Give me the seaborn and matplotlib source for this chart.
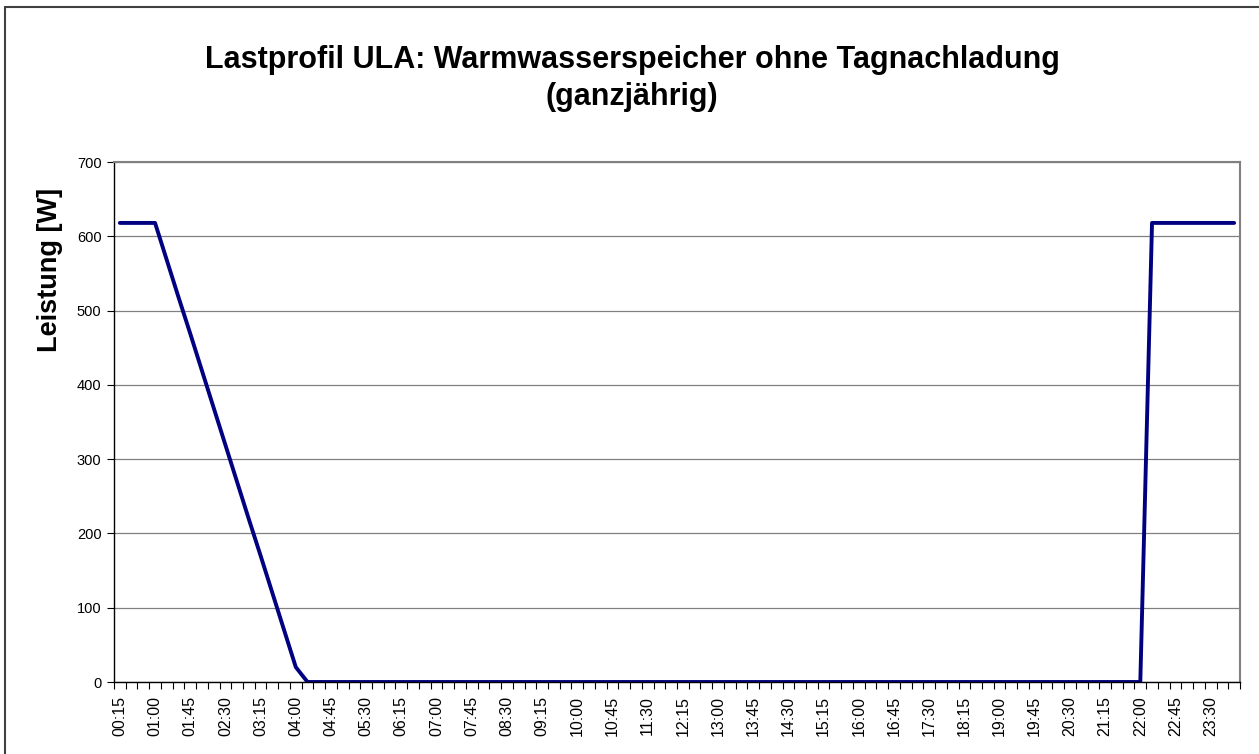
import numpy as np
import pandas as pd
import matplotlib
matplotlib.use("Agg")
import matplotlib.pyplot as plt
from matplotlib.ticker import FixedLocator
import seaborn as sns

# quarter-hour slots 00:15 ... 24:00
slots = [f"{(m // 60):02d}:{(m % 60):02d}" for m in range(15, 24 * 60 + 15, 15)]
slots[-1] = "24:00"

# load in W per slot
power = ([618, 618, 618, 618,
          568, 518, 469, 419, 369, 319, 269, 219, 170, 120, 70, 20]
         + [0] * 72
         + [618, 618, 618, 618, 618, 618, 618, 618])

y_ticks = [0, 100, 200, 300, 400, 500, 600, 700]

df = pd.DataFrame({"idx": range(len(slots)), "slot": slots, "power": power})

sns.set_style("white")
plt.rcParams['font.family'] = ['Liberation Sans', 'DejaVu Sans']
plt.rcParams['text.color'] = 'black'
plt.rcParams['xtick.color'] = 'black'
plt.rcParams['ytick.color'] = 'black'
plt.rcParams['axes.labelcolor'] = 'black'

fig = plt.figure(figsize=(12.59, 7.54), dpi=100)
ax = fig.add_axes([114 / 1259, 1 - 682 / 754, 1126 / 1259, 520 / 754])

sns.lineplot(data=df, x="idx", y="power", color="#000080", linewidth=2.8, ax=ax)

ax.set_xlim(-0.5, len(slots) - 0.5)
ax.set_ylim(0, 700)
ax.set_yticks(y_ticks)
ax.set_yticklabels([str(v) for v in y_ticks], fontsize=10.5)

# labels every 45 min at category centres, tick marks at category borders
ax.set_xticks(range(0, len(slots), 3))
ax.set_xticklabels(slots[::3], rotation=90, fontsize=11.5)
ax.xaxis.set_minor_locator(FixedLocator(np.arange(-0.5, len(slots), 1)))
ax.tick_params(axis="x", which="major", length=0, pad=10)
ax.tick_params(axis="x", which="minor", length=5, width=0.8, color="black", direction="out", bottom=True)
ax.tick_params(axis="y", length=5, width=0.8, color="black", direction="out", left=True, pad=4)

ax.yaxis.grid(True, color="#808080", linewidth=0.9)
ax.xaxis.grid(False)
ax.set_axisbelow(True)

for side in ["left", "bottom"]:
    ax.spines[side].set_color("black")
    ax.spines[side].set_linewidth(1.0)
for side in ["top", "right"]:
    ax.spines[side].set_color("#808080")
    ax.spines[side].set_linewidth(1.5)

ax.set_xlabel("")
ax.set_ylabel("Leistung [W]", fontsize=19.5, fontweight="bold", va="center")
ax.yaxis.set_label_coords(-0.0568, 0.792)

fig.text(0.502, 1 - 60 / 754, "Lastprofil ULA: Warmwasserspeicher ohne Tagnachladung",
         ha="center", va="center", fontsize=22, fontweight="bold")
fig.text(0.502, 1 - 97 / 754, "(ganzjährig)",
         ha="center", va="center", fontsize=22, fontweight="bold")

# chart area border (left and top edge visible)
fig.add_artist(plt.Line2D([4.5 / 1259, 4.5 / 1259], [0, 1 - 7 / 754], color="#404040", linewidth=1.5))
fig.add_artist(plt.Line2D([4.5 / 1259, 1], [1 - 7 / 754, 1 - 7 / 754], color="#404040", linewidth=1.5))

fig.savefig("out.png", dpi=100)
